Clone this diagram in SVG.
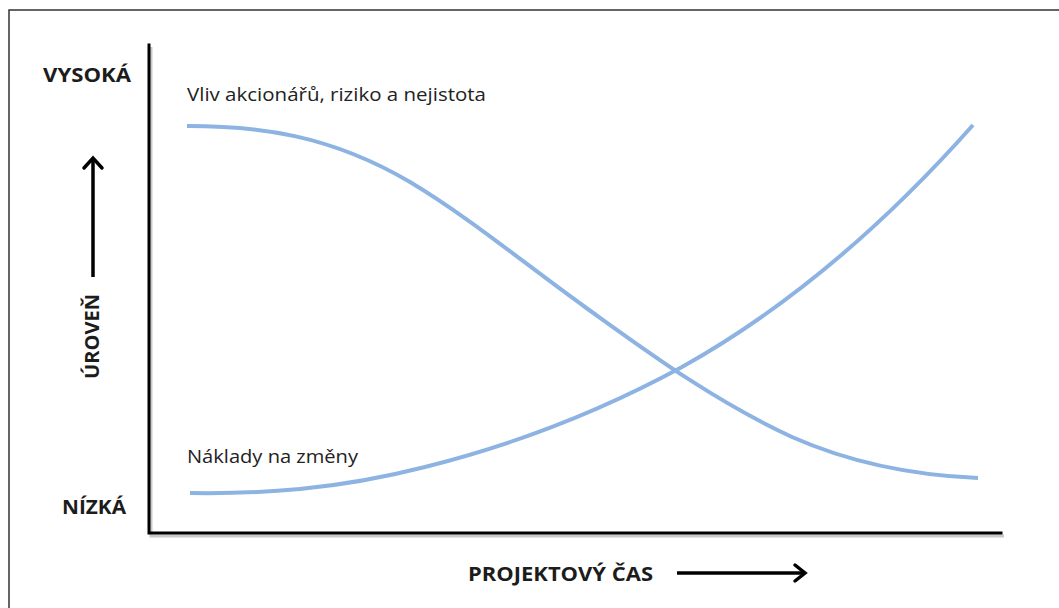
<svg xmlns="http://www.w3.org/2000/svg" width="1059" height="608" viewBox="0 0 1059 608">
  <defs>
    <style>
      .frame { fill: none; stroke: #333; stroke-width: 1.5; }
      .axis { fill: none; stroke: #000; stroke-width: 3; stroke-linecap: square; }
      .axis-shadow { fill: none; stroke: #c8c8c8; stroke-width: 3; }
      .curve { fill: none; stroke: #8db3e2; stroke-width: 4; stroke-linecap: butt; }
      .arrow { fill: none; stroke: #000; stroke-width: 3.5; }
      .head { fill: none; stroke: #000; stroke-width: 3.5; stroke-linecap: round; stroke-linejoin: miter; }
      .lbl { font-family: "Open Sans", "Liberation Sans", sans-serif; font-weight: bold; font-size: 19px; fill: #1c1c1c; }
      .txt { font-family: "Open Sans", "Liberation Sans", sans-serif; font-size: 18px; fill: #222; }
    </style>
  </defs>

  <rect x="0" y="0" width="1059" height="608" fill="#fff"/>
  <rect class="frame" x="9" y="10" width="1100" height="700"/>

  <!-- axes -->
  <g id="axes">
    <path class="axis-shadow" d="M151,47 V536 H1004"/>
    <path class="axis" d="M149,45 V533 H1001"/>
  </g>

  <!-- level scale labels -->
  <g id="level-high"><text class="lbl" x="43" y="82" textLength="88" lengthAdjust="spacingAndGlyphs">VYSOKÁ</text></g>
  <g id="level-low"><text class="lbl" x="62" y="514" textLength="64" lengthAdjust="spacingAndGlyphs">NÍZKÁ</text></g>
  <g id="level-axis">
    <text class="lbl" transform="translate(99,379) rotate(-90)" x="0" y="0" textLength="85" lengthAdjust="spacingAndGlyphs">ÚROVEŇ</text>
    <path class="arrow" d="M93,277 V160"/>
    <path class="head" d="M84,168 L93,158 L102,168"/>
  </g>

  <!-- time axis label -->
  <g id="time-axis">
    <text class="lbl" x="468" y="581" textLength="185" lengthAdjust="spacingAndGlyphs">PROJEKTOVÝ ČAS</text>
    <path class="arrow" d="M677,573 H803"/>
    <path class="head" d="M795,565 L805,573 L795,581"/>
  </g>

  <!-- curves -->
  <g id="connectors">
    <path id="influence" class="curve" d="M187,126 C260,126 330,135 410,182 C470,218 525,264 585,307 C645,350 712,400 792,437 C862,468 930,476 978,478"/>
    <path id="change-cost" class="curve" d="M190,493 C260,494 335,490 425,467 C525,442 612,405 682,367 C782,311 880,230 973,125"/>
  </g>

  <g id="influence-label"><text class="txt" x="187" y="101" textLength="299" lengthAdjust="spacingAndGlyphs">Vliv akcionářů, riziko a nejistota</text></g>
  <g id="cost-label"><text class="txt" x="187" y="463" textLength="171" lengthAdjust="spacingAndGlyphs">Náklady na změny</text></g>
</svg>
